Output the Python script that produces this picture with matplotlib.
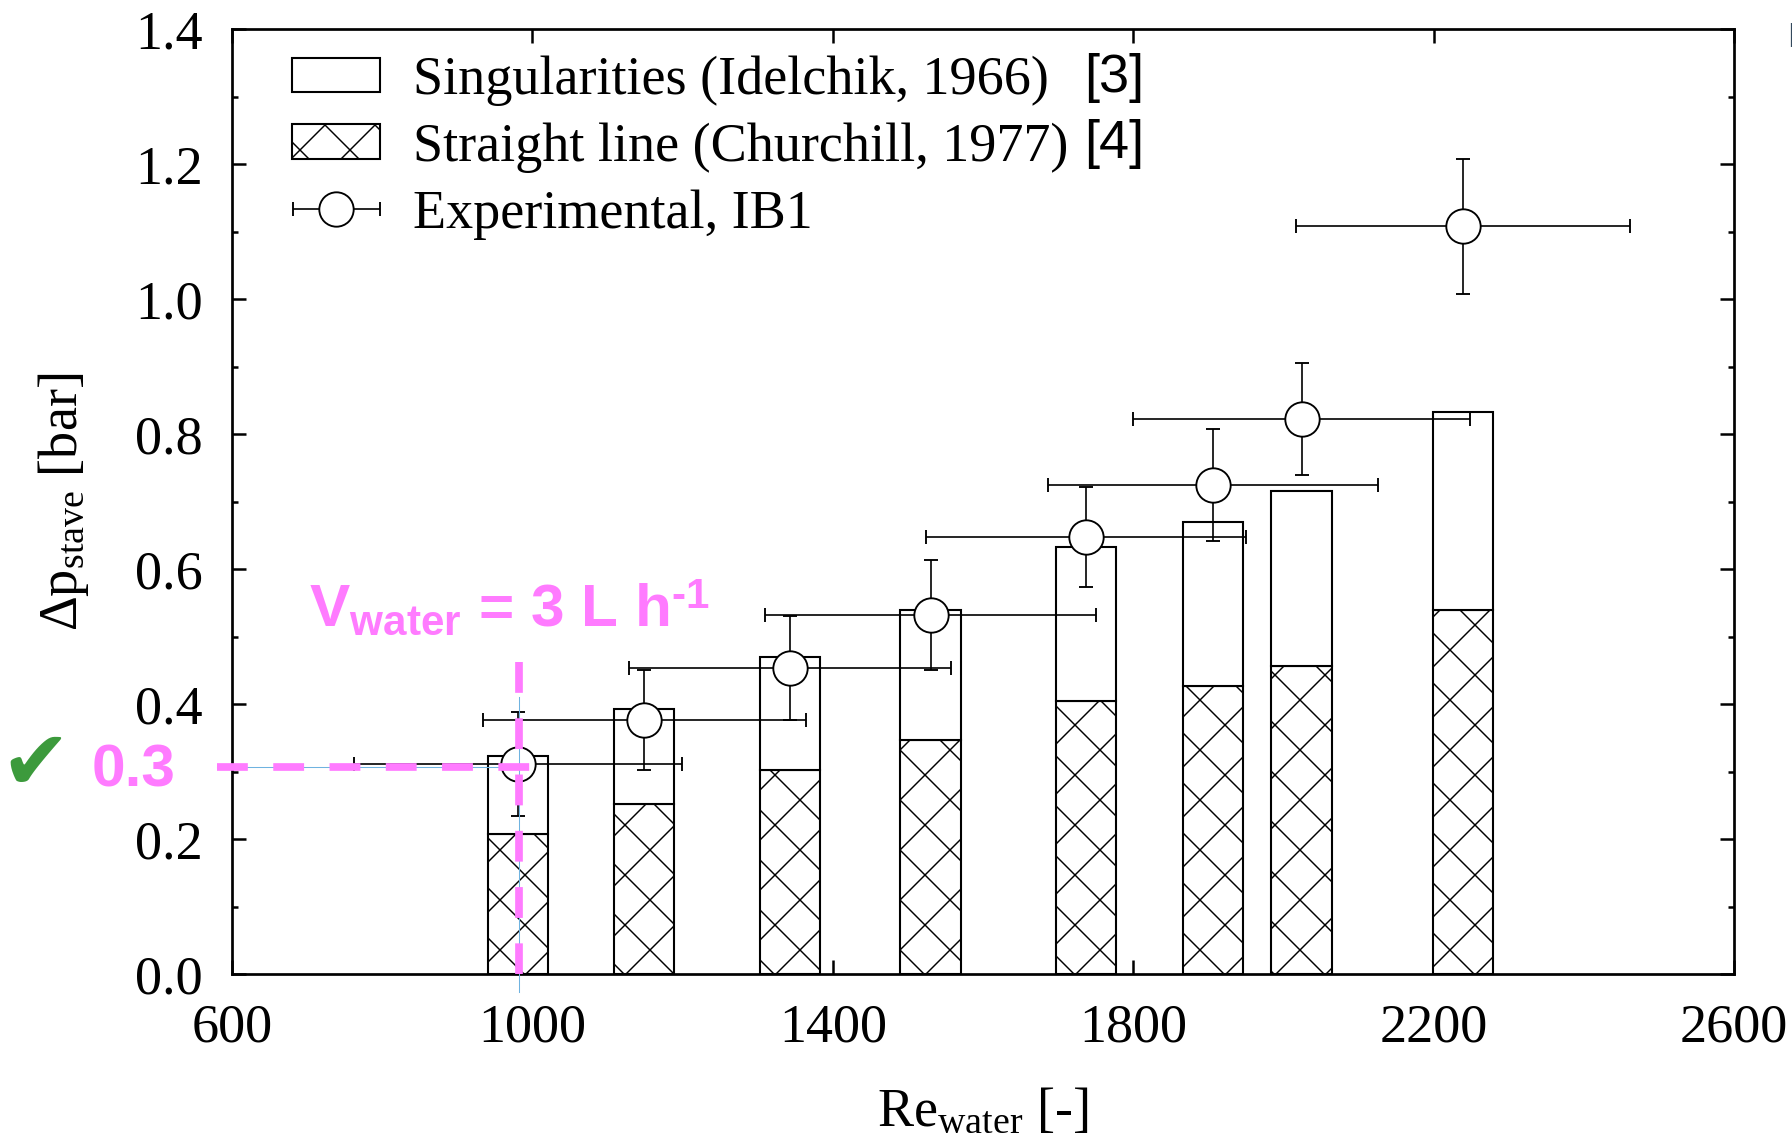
import matplotlib
matplotlib.use('Agg')
import matplotlib.pyplot as plt
import numpy as np
from matplotlib.patches import Patch
from matplotlib.legend_handler import HandlerErrorbar

plt.rcParams['font.family'] = ['Liberation Serif', 'DejaVu Serif']
plt.rcParams['mathtext.fontset'] = 'custom'
plt.rcParams['mathtext.rm'] = 'Liberation Serif'
plt.rcParams['mathtext.it'] = 'Liberation Serif:italic'
plt.rcParams['mathtext.bf'] = 'Liberation Sans:bold'
plt.rcParams['hatch.linewidth'] = 0.7

# data
re_water = [981, 1149, 1343, 1530, 1737, 1906, 2024, 2239]
dp_straight = [0.208, 0.252, 0.302, 0.347, 0.405, 0.427, 0.457, 0.540]
dp_total = [0.323, 0.392, 0.469, 0.540, 0.633, 0.669, 0.715, 0.832]
dp_exp = [0.311, 0.376, 0.454, 0.532, 0.647, 0.724, 0.822, 1.108]
dp_exp_err = [0.077, 0.074, 0.077, 0.081, 0.074, 0.083, 0.083, 0.100]
re_exp_err = [218, 215, 214, 220, 213, 220, 224, 222]

x_ticks = [600, 1000, 1400, 1800, 2200, 2600]
y_ticks = [0.0, 0.2, 0.4, 0.6, 0.8, 1.0, 1.2, 1.4]

# operating point marked in pink
re_op = 982
dp_op = 0.307

dp_singular = np.array(dp_total) - np.array(dp_straight)

fig = plt.figure(figsize=(1792 / 150, 1144 / 150), dpi=150)
ax = fig.add_axes([0.1295, 0.1486, 0.8382, 0.8260])

ax.bar(re_water, dp_straight, width=80, color='white', edgecolor='black',
       linewidth=1.0, hatch='x', zorder=2)
ax.bar(re_water, dp_singular, bottom=dp_straight, width=80, color='white',
       edgecolor='black', linewidth=1.0, zorder=2)
ax.errorbar(re_water, dp_exp, xerr=re_exp_err, yerr=dp_exp_err, fmt='o', ms=16.5,
            mfc='white', mec='black', mew=0.9, ecolor='black', elinewidth=0.8,
            capsize=3.4, capthick=0.8, zorder=5)

ax.set_xlim(600, 2600)
ax.set_ylim(0, 1.4)
ax.set_xticks(x_ticks)
ax.set_yticks(y_ticks)
ax.set_yticklabels(['%.1f' % v for v in y_ticks])
ax.set_yticks(np.arange(0.1, 1.4, 0.2), minor=True)
ax.tick_params(which='both', direction='in', top=True, right=True, width=1.2,
               labelsize=26, pad=14)
ax.tick_params(which='major', length=6.5)
ax.tick_params(which='minor', length=3)
for s in ax.spines.values():
    s.set_linewidth(1.3)

ax.set_xlabel(r'Re$_{\mathrm{water}}$ [-]', fontsize=26, labelpad=16)
ax.set_ylabel(r'Δp$_{\mathrm{stave}}$ [bar]', fontsize=26, labelpad=21)

# legend
h_sing = Patch(facecolor='white', edgecolor='black', linewidth=1.0)
h_str = Patch(facecolor='white', edgecolor='black', linewidth=1.0, hatch='x')
h_exp = ax.errorbar([np.nan], [np.nan], xerr=[1], fmt='o', ms=16.5, mfc='white',
                    mec='black', mew=0.9, ecolor='black', elinewidth=0.8,
                    capsize=3.4, capthick=0.8)
ax.legend([h_sing, h_str, h_exp],
          ['Singularities (Idelchik, 1966)', 'Straight line (Churchill, 1977)',
           'Experimental, IB1'],
          handler_map={type(h_exp): HandlerErrorbar(xerr_size=0.8)},
          loc='upper left', bbox_to_anchor=(0.04, 0.972), frameon=False,
          fontsize=26, handlelength=1.63, handleheight=0.6, handletextpad=0.6,
          labelspacing=0.3, borderpad=0, borderaxespad=0)
ax.text(0.567, 0.9485, '[3]', transform=ax.transAxes, fontsize=26,
        family='Liberation Sans', va='center', ha='left')
ax.text(0.567, 0.8783, '[4]', transform=ax.transAxes, fontsize=26,
        family='Liberation Sans', va='center', ha='left')

# pink markup
pink = '#ff7bff'
ax.plot([580, re_op], [dp_op, dp_op], color='#6fb3e0', lw=0.5, clip_on=False, zorder=6)
ax.plot([re_op, re_op], [-0.027, 0.41], color='#6fb3e0', lw=0.5, clip_on=False, zorder=6)
ax.plot([580, 997], [dp_op, dp_op], color=pink, lw=3.7, dashes=(4.0, 3.3),
        clip_on=False, zorder=7, solid_capstyle='butt')
ax.plot([re_op, re_op], [0.462, 0.0], color=pink, lw=3.7, dashes=(4.0, 3.3),
        clip_on=False, zorder=7)
fig.text(0.1722, 0.4527, 'V$_{\\mathbf{water}}$ = 3 L h$^{\\mathbf{\u20101}}$', color=pink,
         fontsize=29, family=['Liberation Sans', 'DejaVu Sans'], fontweight='bold',
         va='baseline')
fig.text(0.0748, 0.326, '0.3', color=pink, fontsize=29, family='Liberation Sans',
         fontweight='bold', ha='center', va='center')
fig.text(0.0195, 0.331, '✔', color='#3c9a3c', fontsize=40, family='DejaVu Sans',
         ha='center', va='center')

# clipped glyph at the right edge of the source image
fig.text(0.9975, 0.982, 'P', color='#34495e', fontsize=17, family='Liberation Sans',
         ha='left', va='top')

fig.savefig('out.png', dpi=150)
